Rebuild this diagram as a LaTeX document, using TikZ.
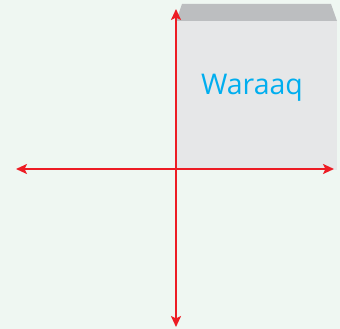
\documentclass[tikz,border=0pt]{standalone}
\usepackage{fontspec}
\setmainfont{Open Sans}
\usetikzlibrary{arrows.meta}
\definecolor{bg}{HTML}{EFF7F2}
\definecolor{front}{HTML}{E6E7E8}
\definecolor{topface}{HTML}{BCBEC0}
\definecolor{axisred}{HTML}{ED1C24}
\definecolor{cyantext}{HTML}{00AEEF}
\tikzset{
  axis/.style={draw=axisred, line width=2.3pt, {Stealth[length=11pt,width=10pt,inset=2.5pt]}-{Stealth[length=11pt,width=10pt,inset=2.5pt]}},
  label/.style={text=cyantext, font=\fontsize{28.5}{28.5}\selectfont, inner sep=0pt}
}
\begin{document}
\begin{tikzpicture}[x=1pt,y=-1pt]
\fill[bg] (0,0) rectangle (340,329);
\useasboundingbox (0,0) rectangle (340,329);
\fill[front] (176,21) rectangle (337,170);
\fill[topface] (176,21) -- (182,4) -- (331,4) -- (337,21) -- cycle;
\node[label, anchor=base] (w) at (252,95) {Waraaq};
\coordinate (l) at (16,169);
\coordinate (r) at (334,169);
\coordinate (t) at (176,9);
\coordinate (b) at (176,327);
\draw[axis] (l) -- (r);
\draw[axis] (t) -- (b);
\end{tikzpicture}
\end{document}
